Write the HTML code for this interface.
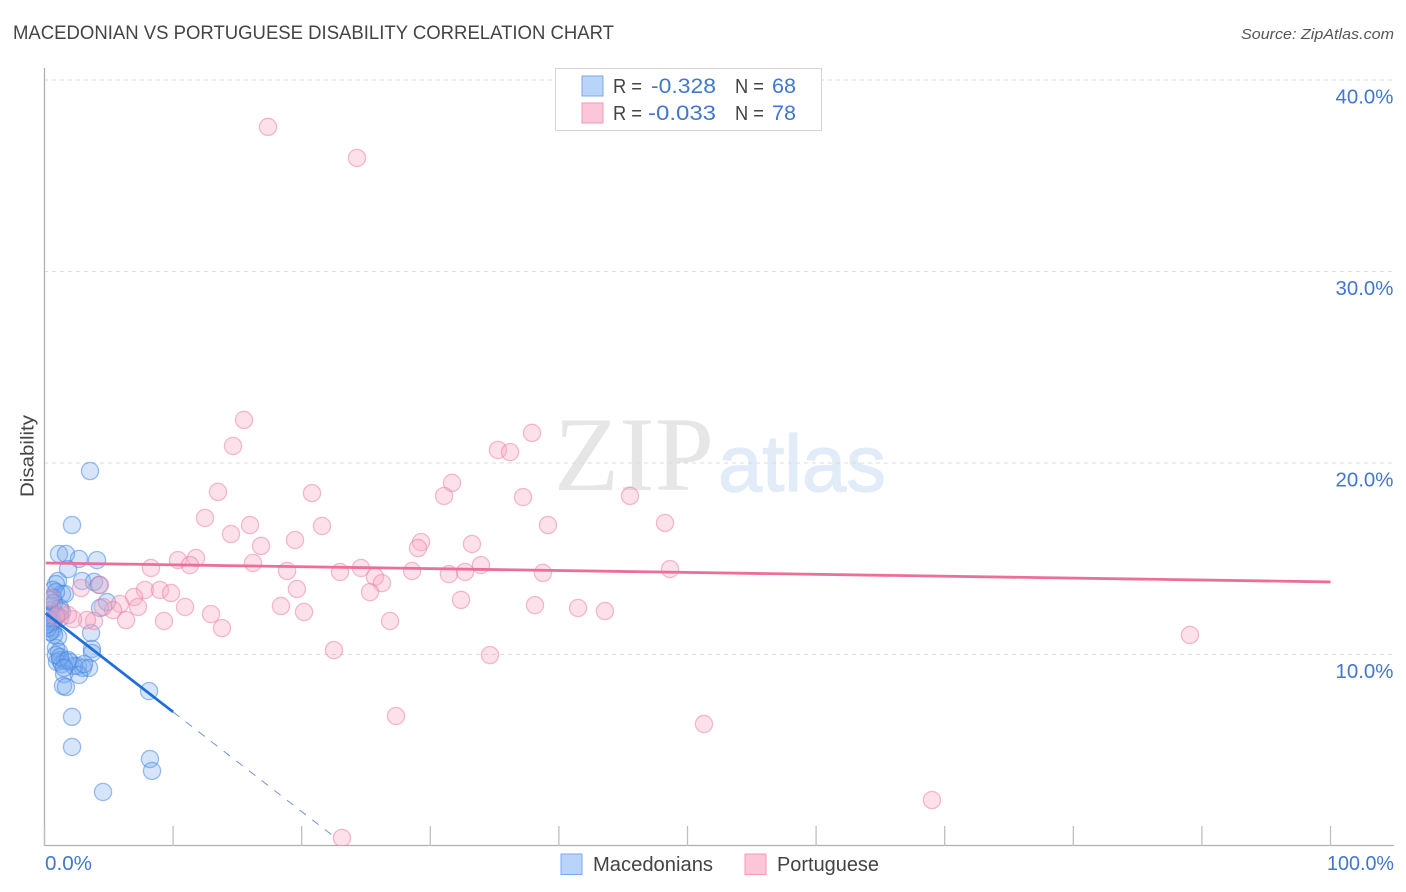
<!DOCTYPE html>
<html lang="en">
<head>
<meta charset="utf-8">
<title>Macedonian vs Portuguese Disability Correlation Chart</title>
<style>
html,body{margin:0;padding:0;background:#fff;width:1406px;height:892px;overflow:hidden}
svg{display:block;font-family:"Liberation Sans",sans-serif}
</style>
</head>
<body>
<svg id="chart" xmlns="http://www.w3.org/2000/svg" width="1406" height="892" viewBox="0 0 1406 892">
  <defs>
    <clipPath id="plot-clip"><rect x="46" y="60" width="1350" height="786"/></clipPath>
  </defs>
  <text x="13" y="39" font-size="19" fill="#444" textLength="601" lengthAdjust="spacingAndGlyphs">MACEDONIAN VS PORTUGUESE DISABILITY CORRELATION CHART</text>
  <text x="1241" y="39" font-size="15" font-style="italic" fill="#555" textLength="153" lengthAdjust="spacingAndGlyphs">Source: ZipAtlas.com</text>
  <g>
    <text x="554" y="490" font-family="'Liberation Serif',serif" font-size="106" fill="#e6e6e6" textLength="160" lengthAdjust="spacingAndGlyphs">ZIP</text>
    <text x="718" y="491" font-size="80" fill="#e2ebf8" stroke="#e2ebf8" stroke-width="1.2" textLength="168" lengthAdjust="spacingAndGlyphs">atlas</text>
  </g>
  <g id="grid"></g>
  <g id="axes"></g>
  <g clip-path="url(#plot-clip)">
    <g id="blue-points"></g>
    <g id="pink-points"></g>
  </g>
  <g id="trends"></g>
  <text transform="translate(33.5,497) rotate(-90)" font-size="18" fill="#444" textLength="82" lengthAdjust="spacingAndGlyphs">Disability</text>
  <g id="tick-labels"></g>
  <g>
    <rect x="555.5" y="68.5" width="266" height="62" fill="#fff" stroke="#d4d4d4"/>
    <rect x="582" y="76" width="21" height="20" fill="#b8d4fa" stroke="#7eaae4"/>
    <rect x="582" y="103" width="21" height="20" fill="#fdc6d8" stroke="#f09ab8"/>
    <text x="613" y="93" font-size="20" fill="#444" textLength="29" lengthAdjust="spacingAndGlyphs">R =</text>
    <text x="651" y="93" font-size="21" fill="#4276d0" textLength="65" lengthAdjust="spacingAndGlyphs">-0.328</text>
    <text x="735" y="93" font-size="20" fill="#444" textLength="29" lengthAdjust="spacingAndGlyphs">N =</text>
    <text x="772" y="93" font-size="21" fill="#4276d0" textLength="24" lengthAdjust="spacingAndGlyphs">68</text>
    <text x="613" y="120" font-size="20" fill="#444" textLength="29" lengthAdjust="spacingAndGlyphs">R =</text>
    <text x="648" y="120" font-size="21" fill="#4276d0" textLength="68" lengthAdjust="spacingAndGlyphs">-0.033</text>
    <text x="735" y="120" font-size="20" fill="#444" textLength="29" lengthAdjust="spacingAndGlyphs">N =</text>
    <text x="772" y="120" font-size="21" fill="#4276d0" textLength="24" lengthAdjust="spacingAndGlyphs">78</text>
  </g>
  <g>
    <rect x="561" y="854" width="21" height="20.5" fill="#b8d4fa" stroke="#7eaae4"/>
    <text x="593" y="871" font-size="20" fill="#444" textLength="120" lengthAdjust="spacingAndGlyphs">Macedonians</text>
    <rect x="745" y="854" width="21" height="20.5" fill="#fdc6d8" stroke="#f09ab8"/>
    <text x="777" y="871" font-size="20" fill="#444" textLength="102" lengthAdjust="spacingAndGlyphs">Portuguese</text>
  </g>
</svg>
<script>
// Chart data (x and y are percentages)
const xTickValues = [0, 10, 20, 30, 40, 50, 60, 70, 80, 90, 100];
const yGridValues = [10, 20, 30, 40];
const yTickLabels = ["10.0%", "20.0%", "30.0%", "40.0%"];
const xEndLabels = ["0.0%", "100.0%"];

const macedoniansX = [3.54,2.14,1.13,1.67,2.68,4.08,1.83,1.05,0.89,2.92,3.85,4.24,0.66,1.36,1.59,0.66,4.86,4.32,0.58,1.21,1.36,0.58,0.74,1.21,0.43,0.58,0.66,1.05,3.62,0.89,1.13,3.69,3.69,1.21,1.59,0.97,1.36,1.98,2.60,2.99,3.46,2.29,1.52,2.68,1.44,1.67,8.13,2.14,2.14,8.20,8.36,4.55,0.74,0.43,0.58,0.97,0.27,0.43,0.12,0.89,1.21,1.83,1.52,3.07,0.89,0.43,0.74,0.27];
const macedoniansY = [19.58,16.76,15.25,15.25,14.99,14.93,14.46,13.84,13.68,13.84,13.79,13.63,13.37,13.16,13.16,12.95,12.74,12.43,12.53,12.43,12.22,12.06,11.80,11.91,11.59,11.38,11.28,10.91,11.12,10.34,10.13,10.29,10.08,9.71,9.66,9.61,9.50,9.61,9.40,9.30,9.30,9.40,8.98,8.93,8.36,8.30,8.09,6.74,5.17,4.54,3.92,2.82,11.02,12.32,11.70,12.06,11.38,11.18,11.54,9.97,9.87,9.71,9.30,9.50,13.26,12.85,12.69,11.91];

const portugueseX = [17.38,24.30,15.51,14.66,37.91,35.26,36.20,31.69,31.07,37.21,45.53,13.49,20.80,12.48,15.98,21.58,14.50,39.15,48.25,19.48,16.84,29.28,29.04,33.24,11.78,10.38,11.31,16.21,8.28,18.86,22.98,24.61,28.58,25.70,31.45,32.70,33.94,38.76,48.64,26.24,25.31,19.63,7.81,8.98,9.84,6.96,2.84,32.39,18.39,20.18,10.93,12.95,7.27,5.87,5.33,38.14,41.49,43.58,26.87,9.29,13.80,6.34,3.85,3.30,2.22,89.07,22.51,34.64,27.33,51.28,69.01,23.13,4.55,1.83,1.21,0.89,0.43,4.32];
const portugueseY = [37.55,35.93,22.25,20.89,21.57,20.68,20.57,18.96,18.28,18.22,18.28,18.49,18.43,17.13,16.76,16.71,16.29,16.76,16.87,15.98,15.67,15.87,15.56,15.77,15.04,14.93,14.67,14.78,14.52,14.36,14.31,14.52,14.36,14.05,14.20,14.31,14.67,14.26,14.46,13.73,13.26,13.42,13.37,13.37,13.21,13.00,13.47,12.85,12.53,12.22,12.48,12.11,12.48,12.64,12.32,12.58,12.43,12.27,11.75,11.75,11.38,11.80,11.75,11.80,11.85,11.02,10.23,9.97,6.79,6.37,2.40,0.42,12.48,12.06,12.22,11.96,12.95,13.63];

const macedoniansTrendX = [0.1, 10];
const macedoniansTrendY = [12.15, 7.0];
const macedoniansDashEndX = 22.6;
const portugueseTrendX = [0.1, 100];
const portugueseTrendY = [14.78, 13.79];

// Axis functions
const plotLeft = 44.5, plotRight = 1330.5, plotBottom = 846, y40 = 80;
function xScale(v) { return plotLeft + (v / 100) * (plotRight - plotLeft); }
function yScale(v) { return plotBottom - (v / 40) * (plotBottom - y40); }
function lineYAt(xs, ys, x) { return ys[0] + (ys[1] - ys[0]) * (x - xs[0]) / (xs[1] - xs[0]); }

const NS = "http://www.w3.org/2000/svg";
function make(tag, parent, attrs) {
  const el = document.createElementNS(NS, tag);
  for (const k in attrs) el.setAttribute(k, attrs[k]);
  document.getElementById(parent).appendChild(el);
  return el;
}

yGridValues.forEach(function (v, i) {
  const line = make("line", "grid", { x1: 44, x2: 1394, y1: yScale(v), y2: yScale(v), stroke: "#dcdcdc", "stroke-width": 1, "stroke-dasharray": "4 4" });
  
  
  const label = make("text", "tick-labels", { x: 1393.5, y: yScale(v) + 23.5, "text-anchor": "end", "font-size": 20, fill: "#4276d0", textLength: 58, lengthAdjust: "spacingAndGlyphs" });
  label.textContent = yTickLabels[i];
  
  
});

const yAxis = make("line", "axes", { x1: 44.5, x2: 44.5, y1: 68, y2: 846, stroke: "#b0b0b0", "stroke-width": 1.3 });


const xAxis = make("line", "axes", { x1: 44, x2: 1394, y1: 845.5, y2: 845.5, stroke: "#b0b0b0", "stroke-width": 1.3 });



xTickValues.forEach(function (v) {
  const tick = make("line", "axes", { x1: xScale(v), x2: xScale(v), y1: 826, y2: 846, stroke: "#c0c0c0", "stroke-width": 1.3 });
  
  
});

const xLabelLeft = make("text", "tick-labels", { x: 45, y: 870, "font-size": 20, fill: "#4276d0", textLength: 47, lengthAdjust: "spacingAndGlyphs" });
xLabelLeft.textContent = xEndLabels[0];


const xLabelRight = make("text", "tick-labels", { x: 1394, y: 870, "text-anchor": "end", "font-size": 20, fill: "#4276d0", textLength: 67, lengthAdjust: "spacingAndGlyphs" });
xLabelRight.textContent = xEndLabels[1];



macedoniansX.forEach(function (x, i) {
  const c = make("circle", "blue-points", { cx: xScale(x), cy: yScale(macedoniansY[i]), r: 8.6, fill: "rgba(120,170,240,0.30)", stroke: "rgba(60,130,225,0.5)", "stroke-width": 1.3 });
  
  
});
portugueseX.forEach(function (x, i) {
  const c = make("circle", "pink-points", { cx: xScale(x), cy: yScale(portugueseY[i]), r: 8.6, fill: "rgba(248,170,195,0.35)", stroke: "rgba(232,125,160,0.5)", "stroke-width": 1.3 });
  
  
});

const blueSolid = make("line", "trends", { x1: xScale(macedoniansTrendX[0]), y1: yScale(macedoniansTrendY[0]), x2: xScale(macedoniansTrendX[1]), y2: yScale(macedoniansTrendY[1]), stroke: "#1f6fd6", "stroke-width": 2.8 });


const blueDash = make("line", "trends", { x1: xScale(macedoniansTrendX[1]), y1: yScale(macedoniansTrendY[1]), x2: xScale(macedoniansDashEndX), y2: yScale(lineYAt(macedoniansTrendX, macedoniansTrendY, macedoniansDashEndX)), stroke: "#6f97cf", "stroke-width": 1, "stroke-dasharray": "8 8" });


const pinkLine = make("line", "trends", { x1: xScale(portugueseTrendX[0]), y1: yScale(portugueseTrendY[0]), x2: xScale(portugueseTrendX[1]), y2: yScale(portugueseTrendY[1]), stroke: "#ec6f9b", "stroke-width": 2.8 });


</script>
</body>
</html>
